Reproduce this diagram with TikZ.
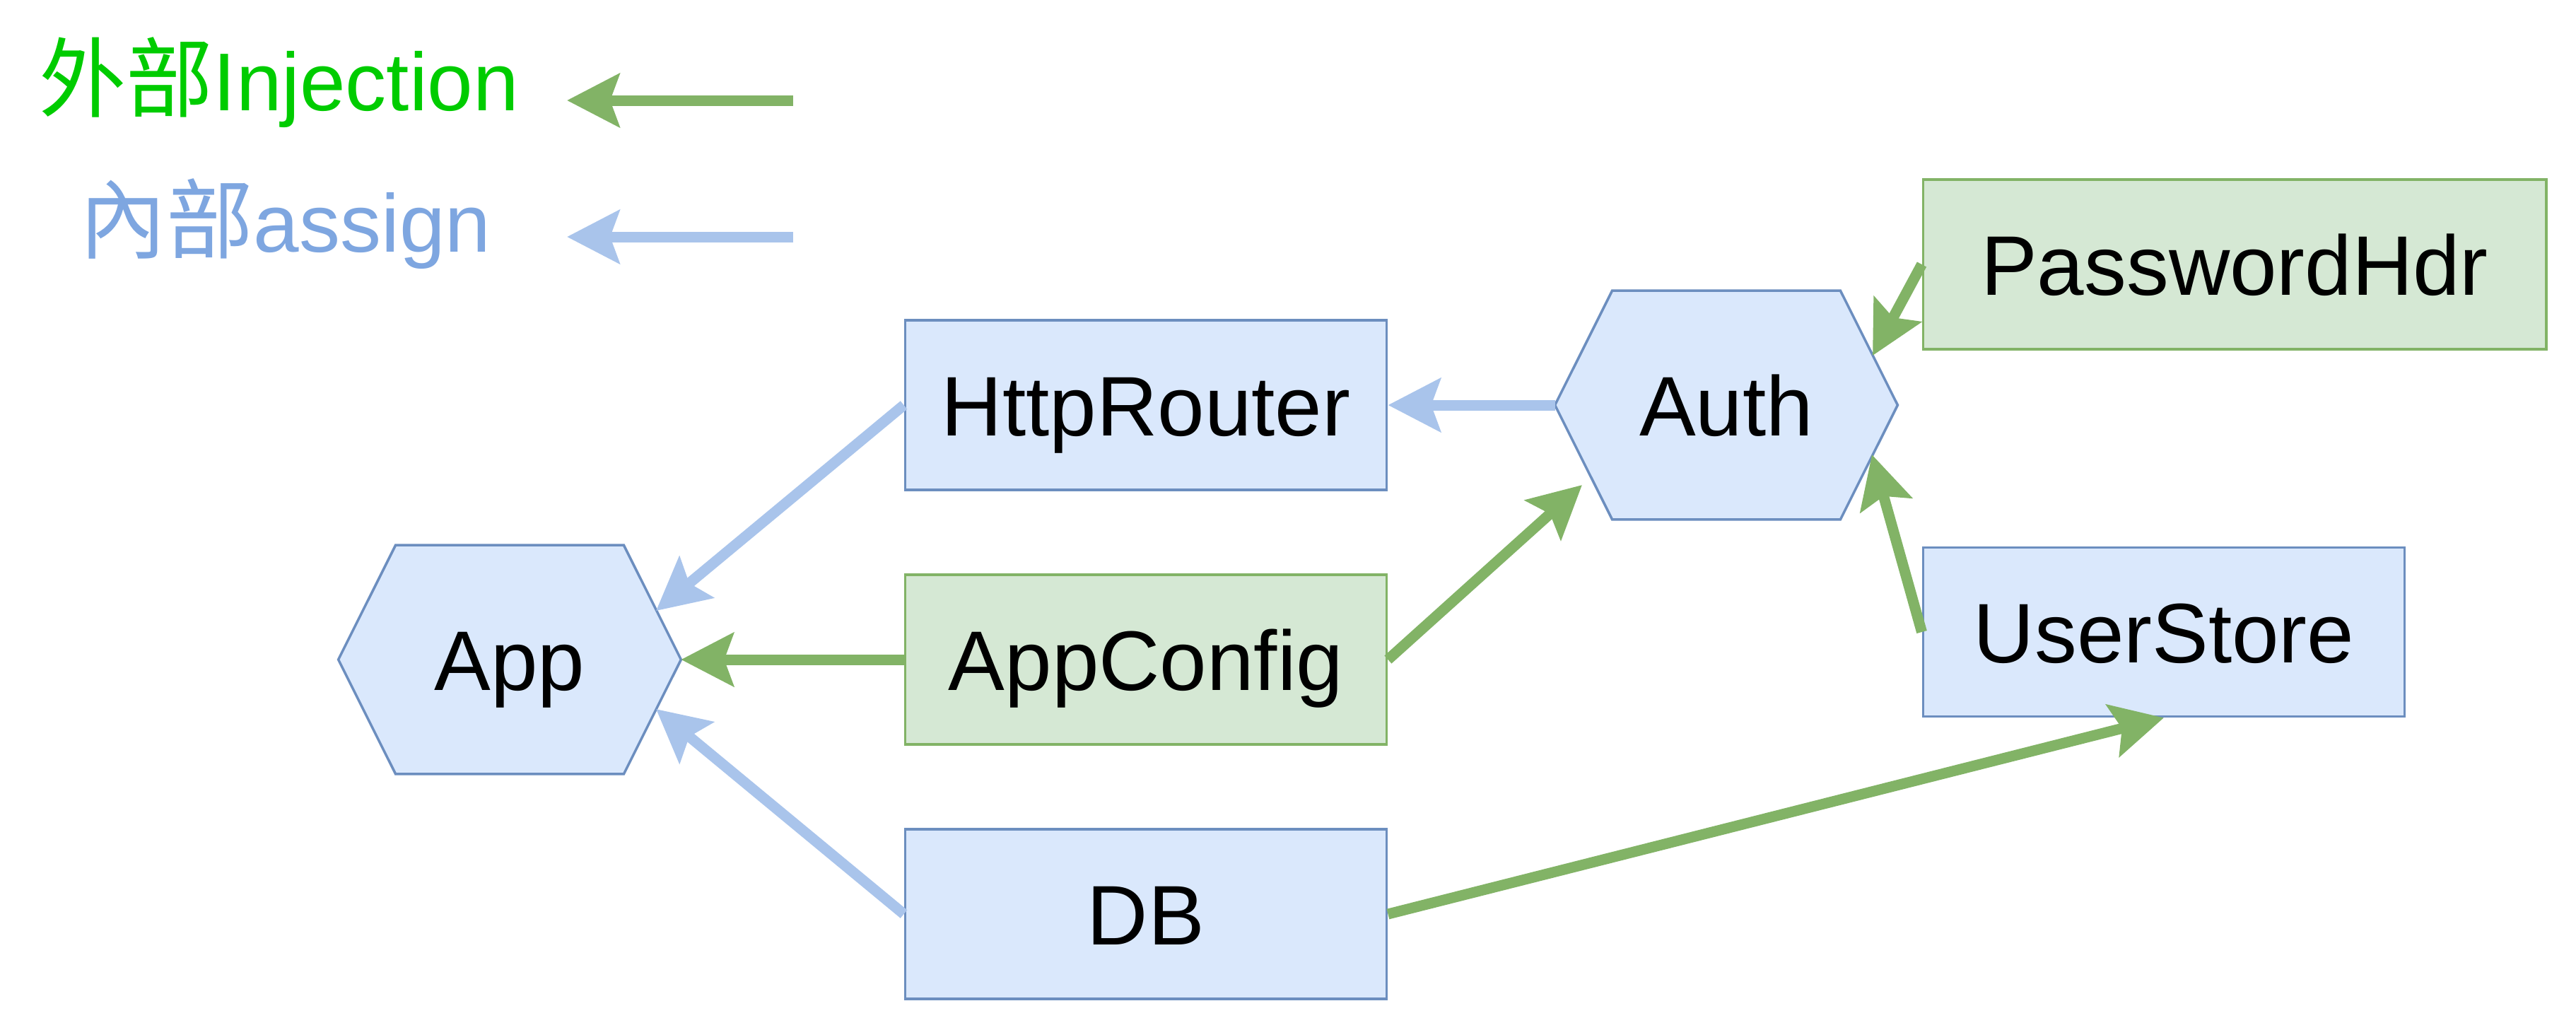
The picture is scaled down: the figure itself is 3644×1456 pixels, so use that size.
\documentclass[tikz,border=0pt]{standalone}
\usepackage{fontspec}
\setmainfont{Liberation Sans}
\newfontfamily\cjkfont{Noto Sans CJK SC}
\usetikzlibrary{arrows.meta,backgrounds,calc}
\definecolor{bluefill}{HTML}{DAE8FC}
\definecolor{bluestroke}{HTML}{6C8EBF}
\definecolor{greenfill}{HTML}{D5E8D4}
\definecolor{greenstroke}{HTML}{82B366}
\definecolor{bluearrow}{HTML}{A9C4EB}
\definecolor{greentext}{HTML}{00CC00}
\definecolor{bluetext}{HTML}{7EA6E0}
\begin{document}
\begin{tikzpicture}[x=0.01cm,y=-0.01cm,
  every node/.style={font=\fontsize{34}{40}\selectfont},
  boxbase/.style={line width=1pt,inner sep=0pt,text height=0.86cm,text depth=0pt},
  bluebox/.style={boxbase,draw=bluestroke,fill=bluefill,minimum width=6.81cm,minimum height=2.4cm},
  greenbox/.style={boxbase,draw=greenstroke,fill=greenfill,minimum width=6.81cm,minimum height=2.4cm},
  hexnode/.style={boxbase,minimum width=4.81cm,minimum height=3.2cm},
  hexshape/.style={draw=bluestroke,fill=bluefill,line width=1pt},
  conn/.style={line width=0.15cm,-{Stealth[length=0.74cm,width=0.75cm,inset=0.13cm]}},
  inj/.style={conn,draw=greenstroke},
  asg/.style={conn,draw=bluearrow},
  legendtext/.style={anchor=base west,inner sep=0pt,font=\fontsize{33}{40}\selectfont}]
\useasboundingbox (0,0) rectangle (3644,1456);

% legend
\node[legendtext,text=greentext] (leginj) at (55,156) {{\cjkfont\fontsize{35}{40}\selectfont 外部}Injection};
\node[legendtext,text=bluetext] (legasg) at (112,356) {{\cjkfont\fontsize{35}{40}\selectfont 內部}assign};
\coordinate (l1s) at (1122,142);
\coordinate (l1e) at (802,142);
\coordinate (l2s) at (1122,335);
\coordinate (l2e) at (802,335);
\draw[inj] (l1s) -- (l1e);
\draw[asg] (l2s) -- (l2e);

% nodes
\node[hexnode] (App) at (721,933) {App};
\node[hexnode] (Auth) at (2442,573) {Auth};
\node[bluebox] (HttpRouter) at (1621,573) {HttpRouter};
\node[greenbox] (AppConfig) at (1621,933) {AppConfig};
\node[bluebox] (DB) at (1621,1293) {DB};
\node[greenbox,minimum width=8.81cm] (PasswordHdr) at (3161,374) {PasswordHdr};
\node[bluebox,minimum height=2.39cm] (UserStore) at (3061,894) {UserStore};

\begin{scope}[on background layer]
\foreach \n in {App,Auth}{
  \draw[hexshape] (\n.west) -- ($(\n.north west)+(81,0)$) -- ($(\n.north east)+(-81,0)$)
    -- (\n.east) -- ($(\n.south east)+(-81,0)$) -- ($(\n.south west)+(81,0)$) -- cycle;
}
\end{scope}

% connector end points
\coordinate (appin1) at ($(App.center)+(207,-69)$);
\coordinate (appin3) at ($(App.center)+(207,70)$);
\coordinate (authin1) at ($(Auth.center)+(-204,113)$);
\coordinate (authin2) at ($(Auth.center)+(207,-70)$);
\coordinate (authin3) at ($(Auth.center)+(206,70)$);

% connectors
\draw[asg] (HttpRouter.west) -- (appin1);
\draw[inj] (AppConfig.west) -- (App.east);
\draw[asg] (DB.west) -- (appin3);
\draw[inj] (AppConfig.east) -- (authin1);
\draw[asg] (Auth.west) -- (HttpRouter.east);
\draw[inj] (PasswordHdr.west) -- (authin2);
\draw[inj] (UserStore.west) -- (authin3);
\draw[inj] (DB.east) -- (UserStore.south);
\end{tikzpicture}
\end{document}
